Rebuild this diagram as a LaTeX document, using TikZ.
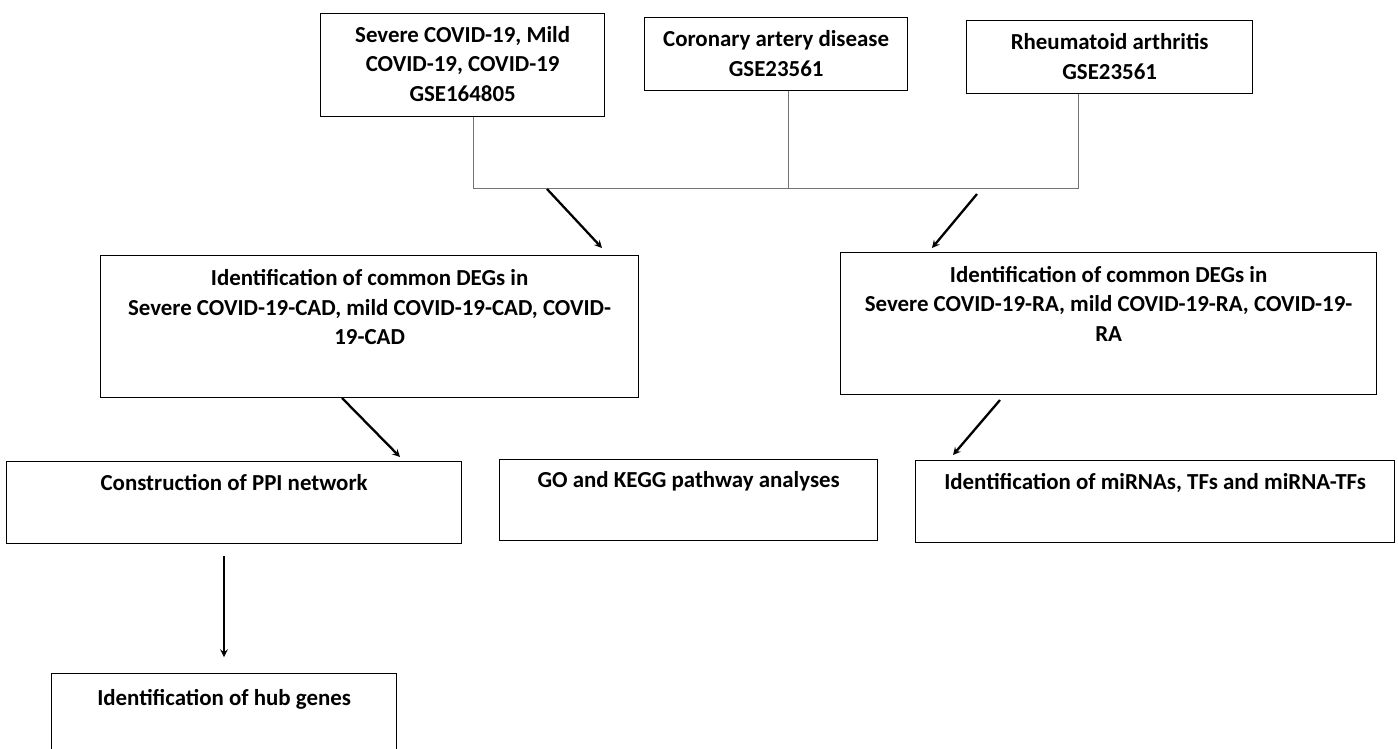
\documentclass[tikz,border=0pt]{standalone}
\usepackage{fontspec}
\setmainfont{Carlito}
\usetikzlibrary{positioning}

\begin{document}
\begin{tikzpicture}[x=1pt,y=-1pt,
  box/.style={draw,line width=1.3pt,anchor=north west,inner sep=0pt},
  txt/.style={align=center,inner sep=0pt,font=\bfseries\fontsize{22.9}{29.5}\selectfont},
  link/.style={draw=black!55,line width=0.8pt},
  arr/.style={->,>=stealth,line width=2.3pt}]
\useasboundingbox (0,0) rectangle (1398,749);
% data sets
\node[box,minimum width=284pt,minimum height=103pt] (covid) at (320,13) {};
\node[txt,below=13pt of covid.north] {Severe COVID-19, Mild\\COVID-19, COVID-19\\GSE164805};
\node[box,minimum width=263pt,minimum height=73pt] (cad) at (644,17) {};
\node[txt,below=13.5pt of cad.north] {Coronary artery disease\\GSE23561};
\node[box,minimum width=286pt,minimum height=73pt] (ra) at (966,20) {};
\node[txt,below=13.5pt of ra.north] {Rheumatoid arthritis\\GSE23561};
% common DEGs
\node[box,minimum width=538pt,minimum height=142pt] (degcad) at (100,255) {};
\node[txt,below=14.5pt of degcad.north] {Identification of common DEGs in\\Severe COVID-19-CAD, mild COVID-19-CAD, COVID-\\19-CAD};
\node[box,minimum width=536pt,minimum height=142pt] (degra) at (840,252) {};
\node[txt,below=14pt of degra.north] {Identification of common DEGs in\\Severe COVID-19-RA, mild COVID-19-RA, COVID-19-\\RA};
% analyses
\node[box,minimum width=455pt,minimum height=82pt] (ppi) at (6,461) {};
\node[txt,below=13.5pt of ppi.north] {Construction of PPI network};
\node[box,minimum width=378pt,minimum height=81pt] (gokegg) at (499,459) {};
\node[txt,below=12pt of gokegg.north] {GO and KEGG pathway analyses};
\node[box,minimum width=479pt,minimum height=82pt] (mirna) at (915,460) {};
\node[txt,below=13pt of mirna.north] {Identification of miRNAs, TFs and miRNA-TFs};
\node[box,minimum width=345pt,minimum height=90pt] (hub) at (51,673) {};
\node[txt,below=16pt of hub.north] {Identification of hub genes};

% joining lines
\coordinate (j1) at (473,188);
\coordinate (j2) at (788,188);
\coordinate (j3) at (1078,188);
\draw[link] (covid.south -| j1) -- (j1) -- (j3) -- (ra.south -| j3);
\draw[link] (cad.south -| j2) -- (j2);

% arrows
\coordinate (a1) at (547,189);
\coordinate (a1e) at (602,248);
\coordinate (a2) at (977,194);
\coordinate (a2e) at (932,248);
\coordinate (a3) at (342,398);
\coordinate (a3e) at (400,457);
\coordinate (a4) at (1000,400);
\coordinate (a4e) at (953,455);
\coordinate (a5) at (224,556);
\coordinate (a5e) at (224,657);
\draw[arr] (a1) -- (a1e);
\draw[arr] (a2) -- (a2e);
\draw[arr] (a3) -- (a3e);
\draw[arr] (a4) -- (a4e);
\draw[arr] (a5) -- (a5e);
\end{tikzpicture}
\end{document}
